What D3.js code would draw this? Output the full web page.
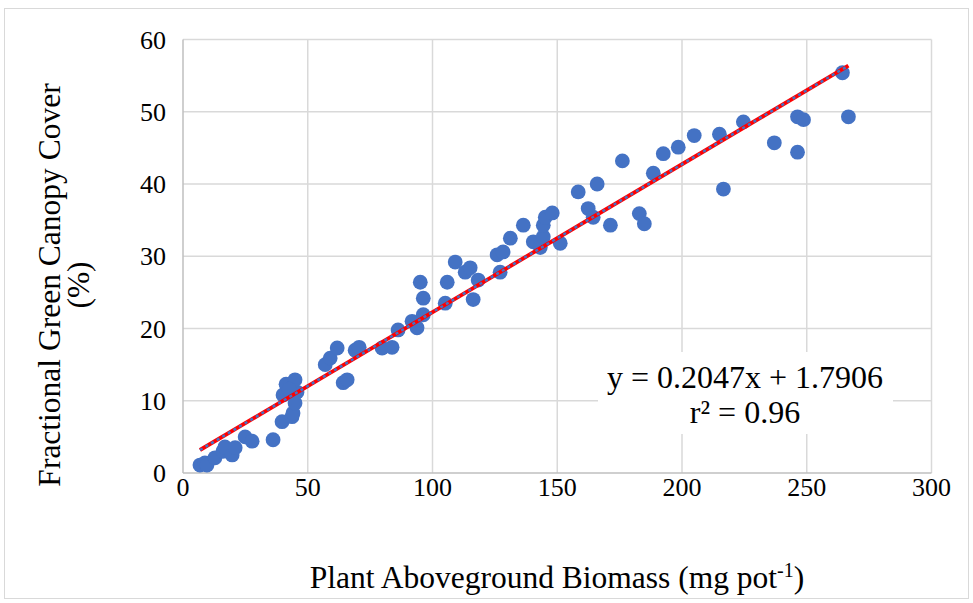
<!DOCTYPE html>
<html>
<head>
<meta charset="utf-8">
<script src="https://cdn.jsdelivr.net/npm/d3@7"></script>
<style>
  body { margin: 0; background: #fff; }
  text { font-family: "Liberation Serif", "Times New Roman", serif; fill: #000; }
</style>
</head>
<body>
<svg width="973" height="603"></svg>
<script>
const width = 973;
const height = 603;

// biomass (mg pot-1)
const biomass = [
  6.8, 8.8, 9.6, 12.8, 16.0, 16.8, 19.7, 20.9, 24.9, 27.7,
  36.1, 39.7, 43.7, 44.1, 44.9, 40.1, 45.7, 41.3, 44.9, 42.5,
  64.2, 65.8, 57.0, 59.0, 61.8, 69.0, 70.6, 79.8, 83.8, 86.2,
  91.8, 93.8, 96.3, 96.3, 95.1, 105.1, 105.9, 109.1, 113.1, 115.1,
  118.3, 116.3, 127.1, 125.9, 128.3, 131.2, 136.4, 140.4, 143.2, 144.4,
  144.4, 145.2, 148.0, 151.2, 158.4, 166.0, 162.4, 164.4, 171.3, 176.1,
  182.9, 184.9, 188.5, 192.5, 198.5, 204.9, 215.0, 224.6, 216.6, 237.0,
  246.3, 248.7, 246.3, 264.3, 266.7
];
// fractional green canopy cover (%)
const cover = [
  1.1, 1.4, 1.1, 2.1, 3.0, 3.6, 2.5, 3.5, 5.0, 4.4,
  4.6, 7.1, 7.8, 8.3, 9.7, 10.8, 11.2, 12.3, 12.9, 11.6,
  12.5, 12.9, 15.0, 15.9, 17.3, 17.0, 17.4, 17.3, 17.4, 19.8,
  21.0, 20.1, 21.9, 24.2, 26.4, 23.5, 26.4, 29.2, 27.8, 28.4,
  26.7, 24.0, 27.8, 30.2, 30.6, 32.5, 34.3, 32.0, 31.2, 32.7,
  34.3, 35.4, 36.0, 31.8, 38.9, 40.0, 36.6, 35.4, 34.3, 43.2,
  35.9, 34.5, 41.5, 44.2, 45.1, 46.7, 46.9, 48.6, 39.3, 45.7,
  49.3, 48.9, 44.4, 55.4, 49.3
];
const xTicks = [0, 50, 100, 150, 200, 250, 300];
const yTicks = [0, 10, 20, 30, 40, 50, 60];
const slope = 0.2047;
const intercept = 1.7906;
const eqLines = ["y = 0.2047x + 1.7906", "r² = 0.96"];

const points = biomass.map((b, i) => ({ x: b, y: cover[i] }));

const svg = d3.select("svg");

// chart area border
svg.append("rect")
    .attr("x", 4.5).attr("y", 8.5)
    .attr("width", 964).attr("height", 590)
    .attr("fill", "#fff")
    .attr("stroke", "#d9d9d9");

const x = d3.scaleLinear().domain([0, 300]).range([183, 931.5]);
const y = d3.scaleLinear().domain([0, 60]).range([473, 39.5]);

// gridlines
svg.append("g")
  .selectAll("line")
  .data(yTicks.slice(1))
  .join("line")
    .attr("x1", x(0)).attr("x2", x(300))
    .attr("y1", d => y(d)).attr("y2", d => y(d))
    .attr("stroke", "#d9d9d9").attr("stroke-width", 1.5);

svg.append("g")
  .selectAll("line")
  .data(xTicks.slice(1))
  .join("line")
    .attr("x1", d => x(d)).attr("x2", d => x(d))
    .attr("y1", y(0)).attr("y2", y(60))
    .attr("stroke", "#d9d9d9").attr("stroke-width", 1.5);

// axis lines
svg.append("line")
    .attr("x1", x(0)).attr("x2", x(0))
    .attr("y1", y(0)).attr("y2", y(60))
    .attr("stroke", "#bfbfbf").attr("stroke-width", 1.5);
svg.append("line")
    .attr("x1", x(0)).attr("x2", x(300))
    .attr("y1", y(0)).attr("y2", y(0))
    .attr("stroke", "#bfbfbf").attr("stroke-width", 1.5);

// tick labels
svg.append("g")
  .selectAll("text")
  .data(yTicks)
  .join("text")
    .attr("x", 166)
    .attr("y", d => y(d) + 9)
    .attr("text-anchor", "end")
    .attr("font-size", 26)
    .text(d => d);

svg.append("g")
  .selectAll("text")
  .data(xTicks)
  .join("text")
    .attr("x", d => x(d))
    .attr("y", 496)
    .attr("text-anchor", "middle")
    .attr("font-size", 26)
    .text(d => d);

// points
svg.append("g")
  .selectAll("circle")
  .data(points)
  .join("circle")
    .attr("cx", d => x(d.x))
    .attr("cy", d => y(d.y))
    .attr("r", 7.4)
    .attr("fill", "#4472c4");

// trendline
const xExt = d3.extent(biomass);
const trend = xExt.map(v => ({ x: v, y: slope * v + intercept }));
const line = d3.line().x(d => x(d.x)).y(d => y(d.y));
svg.append("path")
    .datum(trend)
    .attr("d", line)
    .attr("fill", "none")
    .attr("stroke", "#ff0000")
    .attr("stroke-width", 4);
svg.append("path")
    .datum(trend)
    .attr("d", line)
    .attr("fill", "none")
    .attr("stroke", "#4472c4")
    .attr("stroke-width", 2.5)
    .attr("stroke-dasharray", "3 3.5");

// equation label
svg.append("rect")
    .attr("x", 598).attr("y", 352)
    .attr("width", 295).attr("height", 82)
    .attr("fill", "#fff");
svg.append("g")
  .selectAll("text")
  .data(eqLines)
  .join("text")
    .attr("x", 745)
    .attr("y", (d, i) => 388 + i * 35)
    .attr("text-anchor", "middle")
    .attr("font-size", 32)
    .text(d => d);

// axis titles
const xTitle = svg.append("text")
    .attr("x", 557)
    .attr("y", 588)
    .attr("text-anchor", "middle")
    .attr("font-size", 31.5);
xTitle.append("tspan").text("Plant Aboveground Biomass (mg pot");
xTitle.append("tspan").attr("dy", -11).attr("font-size", 20).text("-1");
xTitle.append("tspan").attr("dy", 11).text(")");

const yTitle = svg.append("g")
    .attr("transform", "translate(0,285) rotate(-90)");
yTitle.append("text")
    .attr("x", 0).attr("y", 60)
    .attr("text-anchor", "middle")
    .attr("font-size", 31.5)
    .text("Fractional Green Canopy Cover");
yTitle.append("text")
    .attr("x", 0).attr("y", 89)
    .attr("text-anchor", "middle")
    .attr("font-size", 31.5)
    .text("(%)");
</script>
</body>
</html>
